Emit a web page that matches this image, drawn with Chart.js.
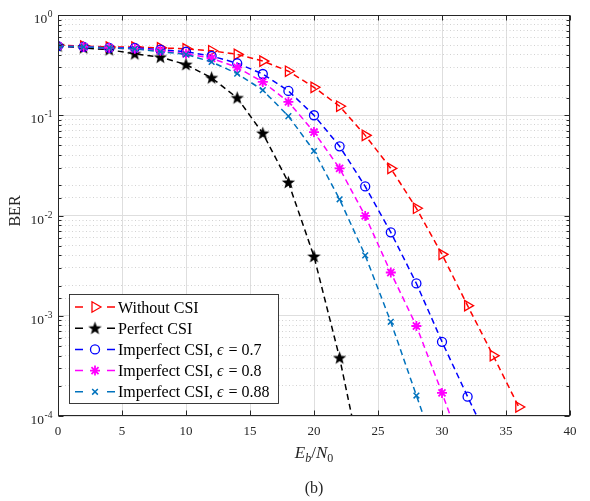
<!DOCTYPE html>
<html>
<head>
<meta charset="utf-8">
<script src="https://cdn.jsdelivr.net/npm/chart.js@4.4.0/dist/chart.umd.min.js"></script>
<style>
  html, body { margin: 0; padding: 0; background: #fff; }
  #wrap { width: 590px; height: 501px; }
</style>
</head>
<body>
<div id="wrap"><canvas id="berChart" width="590" height="501"></canvas></div>
<script>
// ===================================
// DATA
// ===================================
const ebn0 = [0, 2, 4, 6, 8, 10, 12, 14, 16, 18, 20, 22, 24, 26, 28, 30, 32, 34, 36];
const berNoCsi = [0.50, 0.49, 0.48, 0.48, 0.47, 0.46, 0.44, 0.405, 0.347, 0.275, 0.19, 0.123, 0.063, 0.0295, 0.0118, 0.0041, 0.00126, 0.0004, 0.000123];
const berPerfect = [0.49, 0.47, 0.45, 0.41, 0.38, 0.32, 0.236, 0.149, 0.066, 0.0214, 0.0039, 0.00038, 0.000023];
const berEps07 = [0.49, 0.48, 0.47, 0.47, 0.45, 0.43, 0.39, 0.33, 0.258, 0.175, 0.1, 0.049, 0.0195, 0.0068, 0.0021, 0.00055, 0.000156, 0.000045];
const berEps08 = [0.49, 0.48, 0.47, 0.46, 0.44, 0.41, 0.37, 0.30, 0.215, 0.136, 0.068, 0.0295, 0.0099, 0.0027, 0.00079, 0.00017, 0.000034];
const berEps088 = [0.49, 0.48, 0.47, 0.46, 0.43, 0.405, 0.34, 0.26, 0.178, 0.098, 0.044, 0.0145, 0.004, 0.00087, 0.00016, 0.00003];
const seriesLabels = [
  "Without CSI",
  "Perfect CSI",
  "Imperfect CSI, \u03F5 = 0.7",
  "Imperfect CSI, \u03F5 = 0.8",
  "Imperfect CSI, \u03F5 = 0.88",
];
const xMin = 0, xMax = 40, xStep = 5;
const yMin = 1e-4, yMax = 1;

const SERIF = "'Liberation Serif', 'DejaVu Serif', serif";
const AXIS_COLOR = "#262626";

// filled pentagram used for the Perfect CSI markers
function makeStar(color) {
  const c = document.createElement("canvas");
  c.width = 15; c.height = 15;
  const g = c.getContext("2d");
  g.fillStyle = color;
  g.beginPath();
  for (let i = 0; i < 10; i++) {
    const r = i % 2 === 0 ? 7 : 2.9;
    const a = -Math.PI / 2 + (i * Math.PI) / 5;
    const px = 7.5 + r * Math.cos(a), py = 7.8 + r * Math.sin(a);
    i === 0 ? g.moveTo(px, py) : g.lineTo(px, py);
  }
  g.closePath();
  g.fill();
  return c;
}
const starImg = makeStar("#000");

const toPoints = (ys) => ys.map((v, i) => ({ x: ebn0[i], y: v }));

function series(label, data, color, marker, order) {
  return {
    label,
    data: toPoints(data),
    borderColor: color,
    backgroundColor: color,
    borderWidth: 1.5,
    borderDash: [6, 4],
    tension: 0,
    fill: false,
    pointStyle: marker.style,
    pointRadius: marker.radius,
    pointRotation: marker.rotation || 0,
    pointBorderWidth: marker.width || 1.3,
    pointBorderColor: color,
    pointBackgroundColor: marker.filled ? color : "rgba(0,0,0,0)",
    order,
  };
}

const markers = [
  { style: "triangle", radius: 6, rotation: 90 },
  { style: starImg, radius: 6, filled: true },
  { style: "circle", radius: 4.5 },
  { style: "star", radius: 5, width: 1.8 },
  { style: "crossRot", radius: 4, width: 1.5 },
];
const colors = ["#ff0000", "#000000", "#0000ff", "#ff00ff", "#0072bd"];
const allData = [berNoCsi, berPerfect, berEps07, berEps08, berEps088];

const isDecade = (v) => Math.abs(Math.log10(v) - Math.round(Math.log10(v))) < 1e-6;

// ===================================
// DRAWING HELPERS
// ===================================
function drawMarker(ctx, m, color, x, y) {
  ctx.save();
  ctx.strokeStyle = color;
  ctx.fillStyle = m.filled ? color : "rgba(0,0,0,0)";
  ctx.lineWidth = m.width || 1.3;
  ctx.setLineDash([]);
  if (Chart.helpers && Chart.helpers.drawPoint) {
    Chart.helpers.drawPoint(ctx, { pointStyle: m.style, radius: m.radius, rotation: m.rotation || 0, borderWidth: ctx.lineWidth }, x, y);
  }
  ctx.restore();
}

function drawLabelText(ctx, text, x, y, size) {
  const parts = text.split("\u03F5");
  let cx = x;
  parts.forEach((p, i) => {
    if (i > 0) {
      ctx.font = "italic " + size + "px " + SERIF;
      ctx.fillText("\u03F5", cx, y);
      cx += ctx.measureText("\u03F5").width + 1;
    }
    ctx.font = size + "px " + SERIF;
    ctx.fillText(p, cx, y);
    cx += ctx.measureText(p).width;
  });
}

const decorPlugin = {
  id: "decor",
  afterDraw(chart) {
    const { ctx, chartArea: a, scales } = chart;
    const xs = scales.x, ys = scales.y;
    const L = Math.round(a.left) + 0.5, R = Math.round(a.right) - 0.5;
    const T = Math.round(a.top) + 0.5, B = Math.round(a.bottom) - 0.5;
    ctx.save();
    ctx.setLineDash([]);
    ctx.strokeStyle = AXIS_COLOR;
    ctx.lineWidth = 1;

    // inward tick marks
    ctx.beginPath();
    ys.ticks.forEach((t) => {
      const py = Math.round(ys.getPixelForValue(t.value)) + 0.5;
      const len = isDecade(t.value) ? 5 : 3;
      ctx.moveTo(L, py); ctx.lineTo(L + len, py);
      ctx.moveTo(R, py); ctx.lineTo(R - len, py);
    });
    xs.ticks.forEach((t) => {
      const px = Math.round(xs.getPixelForValue(t.value)) + 0.5;
      ctx.moveTo(px, B); ctx.lineTo(px, B - 5);
      ctx.moveTo(px, T); ctx.lineTo(px, T + 5);
    });
    ctx.stroke();
    ctx.strokeRect(L, T, R - L, B - T);

    // y tick labels 10^n
    ctx.fillStyle = AXIS_COLOR;
    ctx.textBaseline = "alphabetic";
    ctx.textAlign = "left";
    ys.ticks.filter((t) => isDecade(t.value)).forEach((t) => {
      const py = ys.getPixelForValue(t.value);
      const e = Math.round(Math.log10(t.value));
      const expTxt = e === 0 ? "0" : "-" + Math.abs(e);
      ctx.font = "9.5px " + SERIF;
      const ew = ctx.measureText(expTxt).width;
      ctx.font = "13.5px " + SERIF;
      const bw = ctx.measureText("10").width;
      const xEnd = a.left - 5.5;
      ctx.fillText("10", xEnd - ew - bw - 0.5, py + 8);
      ctx.font = "9.5px " + SERIF;
      ctx.fillText(expTxt, xEnd - ew, py + 2);
    });

    // y axis title
    ctx.save();
    ctx.translate(16, 211);
    ctx.rotate(-Math.PI / 2);
    ctx.textAlign = "center";
    ctx.textBaseline = "middle";
    ctx.font = "16px " + SERIF;
    ctx.fillText("BER", 0, 0);
    ctx.restore();

    // x axis title E_b/N_0
    const pieces = [
      { t: "E", f: "italic 17px " + SERIF, dy: 0 },
      { t: "b", f: "italic 12px " + SERIF, dy: 4 },
      { t: "/", f: "17px " + SERIF, dy: 0 },
      { t: "N", f: "italic 17px " + SERIF, dy: 0 },
      { t: "0", f: "12px " + SERIF, dy: 4 },
    ];
    let tw = 0;
    pieces.forEach((p) => { ctx.font = p.f; p.w = ctx.measureText(p.t).width; tw += p.w; });
    let cx = (a.left + a.right) / 2 - tw / 2;
    pieces.forEach((p) => { ctx.font = p.f; ctx.fillText(p.t, cx, 458 + p.dy); cx += p.w; });

    // caption
    ctx.textAlign = "center";
    ctx.font = "16px " + SERIF;
    ctx.fillText("(b)", (a.left + a.right) / 2, 493);

    // legend
    const bx = 69.5, by = 294.5, bw2 = 209, bh = 109;
    ctx.fillStyle = "#fff";
    ctx.fillRect(bx, by, bw2, bh);
    ctx.strokeStyle = AXIS_COLOR;
    ctx.lineWidth = 0.9;
    ctx.strokeRect(bx, by, bw2, bh);
    seriesLabels.forEach((lab, i) => {
      const ry = 307 + i * 21.2;
      ctx.save();
      ctx.strokeStyle = colors[i];
      ctx.lineWidth = 1.5;
      ctx.setLineDash([8, 24]);
      ctx.beginPath();
      ctx.moveTo(75, ry); ctx.lineTo(115, ry);
      ctx.stroke();
      ctx.restore();
      drawMarker(ctx, markers[i], colors[i], 95, ry);
      ctx.fillStyle = "#000";
      ctx.textAlign = "left";
      ctx.textBaseline = "alphabetic";
      drawLabelText(ctx, lab, 118, ry + 5.5, 16);
    });
    ctx.restore();
  },
};

// ===================================
// CHART
// ===================================
Chart.defaults.font.family = SERIF;

new Chart(document.getElementById("berChart"), {
  type: "line",
  data: {
    datasets: allData.map((d, i) => series(seriesLabels[i], d, colors[i], markers[i], 5 - i)),
  },
  options: {
    responsive: false,
    animation: false,
    layout: { padding: { left: 0, right: 20, top: 15, bottom: 0 } },
    plugins: { legend: { display: false }, tooltip: { enabled: false } },
    scales: {
      x: {
        type: "linear",
        min: xMin,
        max: xMax,
        ticks: { stepSize: xStep, color: AXIS_COLOR, font: { size: 13, family: SERIF }, padding: 8, maxRotation: 0 },
        grid: { color: "#dedede", lineWidth: 1, drawTicks: false },
        border: { display: false },
        afterFit: (s) => { s.height = 85; },
      },
      y: {
        type: "logarithmic",
        min: yMin,
        max: yMax,
        ticks: { display: false, autoSkip: false },
        grid: {
          drawTicks: false,
          lineWidth: 1,
          color: (c) => (c.tick && isDecade(c.tick.value) ? "#dedede" : "#d2d2d2"),
        },
        border: {
          display: false,
          dash: (c) => (c.tick && !isDecade(c.tick.value) ? [1, 2.5] : []),
        },
        afterFit: (s) => { s.width = 58; },
      },
    },
  },
  plugins: [decorPlugin],
});
</script>
</body>
</html>
